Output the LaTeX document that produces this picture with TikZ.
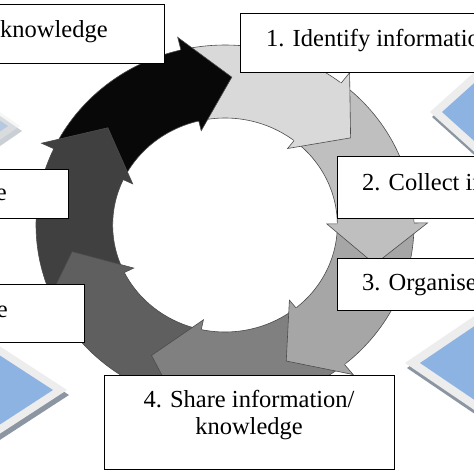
\documentclass[tikz,border=0pt]{standalone}
\usepackage{fontspec}
\setmainfont{Liberation Serif}
\definecolor{cA}{HTML}{D9D9D9}
\definecolor{cB}{HTML}{BFBFBF}
\definecolor{cC}{HTML}{A6A6A6}
\definecolor{cD}{HTML}{808080}
\definecolor{cE}{HTML}{5F5F5F}
\definecolor{cF}{HTML}{404040}
\definecolor{cG}{HTML}{080808}
\definecolor{dblue}{HTML}{8DB3E2}
\definecolor{dshadow}{HTML}{8B96A2}
\definecolor{dborder}{HTML}{EDEDED}
\newcommand\decodiamond[6]{%
  \begin{scope}[opacity=#6]
  \fill[dshadow] (#1-#3+2,#2+5) -- (#1+2,#2-#4+5) -- (#1+#3+2,#2+5) -- (#1+2,#2+#4+5) -- cycle;
  \fill[dborder] (#1-#3,#2) -- (#1,#2-#4) -- (#1+#3,#2) -- (#1,#2+#4) -- cycle;
  \fill[dblue] (#1-#3+#5,#2) -- (#1,#2-#4+#5*#4/#3) -- (#1+#3-#5,#2) -- (#1,#2+#4-#5*#4/#3) -- cycle;
  \end{scope}}
\tikzset{
  box/.style={draw=black, line width=1.3pt, fill=white, inner sep=0pt, anchor=north west},
  txt/.style={font=\fontsize{24.5}{29}\selectfont, inner sep=0pt, text=black},
  ringline/.style={draw=black!70, line width=0.6pt}
}
\begin{document}
\begin{tikzpicture}[x=1pt,y=-1pt]
\useasboundingbox (0,0) rectangle (474,474);
\fill[white] (0,0) rectangle (474,474);
% decorative diamonds
\decodiamond{490}{112}{60}{54}{12}{1}
\decodiamond{495}{363}{90}{61}{15}{1}
\decodiamond{-50}{126}{70}{48}{12}{0.45}
\decodiamond{-33}{390}{100}{65}{14}{1}
% cycle of seven curved arrows
\begin{scope}[shift={(225,225)}, xscale=1.05]
\def\ang{51.4286}
\foreach \c [count=\k from 0] in {cA,cB,cC,cD,cE,cF,cG} {
  \pgfmathsetmacro\tip{36.07-\k*\ang}
  \pgfmathsetmacro\bs{\tip+16}
  \pgfmathsetmacro\ts{\tip+\ang+16}
  \fill[\c] (\ts:180pt) arc[start angle=\ts, end angle=\bs, radius=180pt]
     -- (\bs:107pt) arc[start angle=\bs, end angle=\ts, radius=107pt] -- cycle;
  \draw[ringline] (\ts:180pt) arc[start angle=\ts, end angle=\bs, radius=180pt];
  \draw[ringline] (\ts:107pt) arc[start angle=\ts, end angle=\bs, radius=107pt];
}
\foreach \c [count=\k from 0] in {cA,cB,cC,cD,cE,cF,cG} {
  \pgfmathsetmacro\tip{36.07-\k*\ang}
  \pgfmathsetmacro\bs{\tip+16}
  \pgfmathsetmacro\bi{\tip+16.4}
  \fill[\c] (\bi:180pt) -- (\bs:180pt) -- (\bs:193pt) -- (\tip:148pt) -- (\bs:97pt) -- (\bs:107pt) -- (\bi:107pt) -- cycle;
  \draw[ringline, line join=miter] (\bs:180pt) -- (\bs:193pt) -- (\tip:148pt) -- (\bs:97pt) -- (\bs:107pt);
}
\end{scope}
% boxes
\node[box, minimum width=184pt, minimum height=59pt] (bk) at (-20,4) {};
\node[box, minimum width=260pt, minimum height=59pt] (b1) at (240,13) {};
\node[box, minimum width=160pt, minimum height=62pt] (b2) at (337,156) {};
\node[box, minimum width=160pt, minimum height=52pt] (b3) at (337,258) {};
\node[box, minimum width=290pt, minimum height=94pt] (b4) at (104,375) {};
\node[box, minimum width=88pt, minimum height=49pt] (l1) at (-20,169) {};
\node[box, minimum width=104pt, minimum height=58pt] (l2) at (-20,284) {};
% texts
\node[txt, anchor=base west] (tk) at (0,37) {knowledge};
\node[txt, anchor=base west] (t1) at (266,46) {1. Identify information};
\node[txt, anchor=base west] (t2) at (362,190) {2. Collect in};
\node[txt, anchor=base west] (t3) at (362,290) {3. Organise};
\node[txt, anchor=base] (t4a) at (249,407) {4. Share information/};
\node[txt, anchor=base] (t4b) at (249,434) {knowledge};
\node[txt, anchor=base east] (te1) at (7,200) {e};
\node[txt, anchor=base east] (te2) at (8,317) {e};
\end{tikzpicture}
\end{document}
